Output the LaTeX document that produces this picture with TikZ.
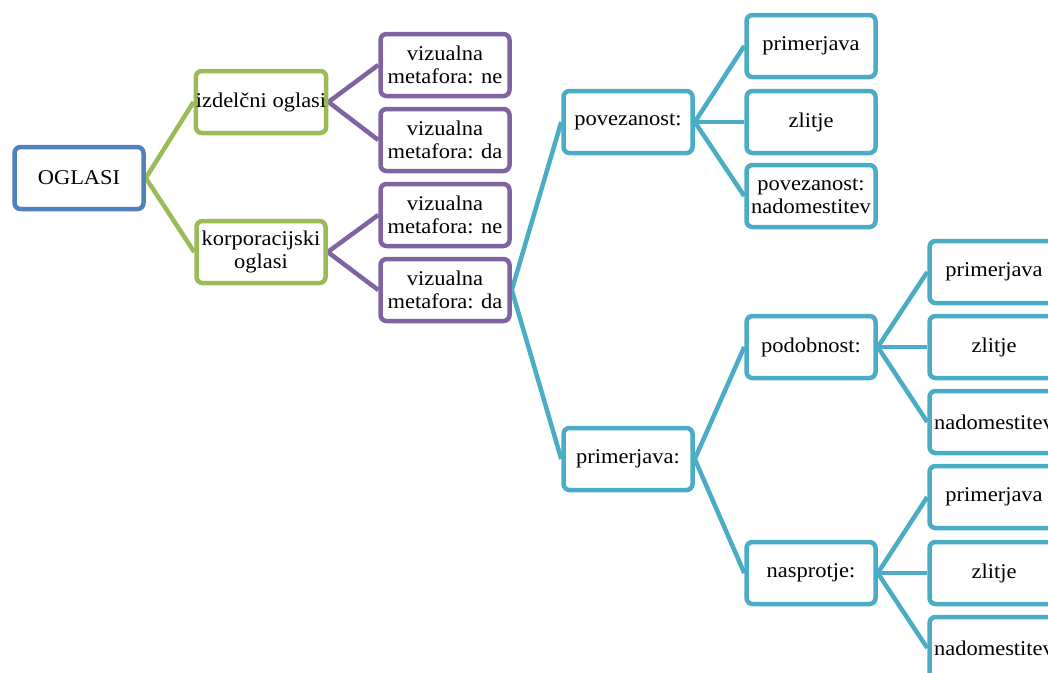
\documentclass[tikz,border=0pt]{standalone}
\usepackage{fontspec}
\setmainfont[FakeStretch=1.07]{Liberation Serif}
\usetikzlibrary{backgrounds}
\definecolor{cblue}{HTML}{4F81BD}
\definecolor{cgreen}{HTML}{9BBB59}
\definecolor{cpurple}{HTML}{8064A2}
\definecolor{cteal}{HTML}{4BACC6}
\tikzset{
  box/.style={draw, rounded corners=6pt, line width=4.5pt, fill=white,
    minimum width=129pt, minimum height=62pt, align=center, inner sep=0pt,
    font=\fontsize{21}{23}\selectfont},
  conn/.style={line width=4.5pt},
}
\begin{document}
\begin{tikzpicture}[x=1pt,y=-1pt]
\useasboundingbox (0,0) rectangle (1048,672);
\clip (0,0) rectangle (1048,672);
\node[box, draw=cblue] (og) at (79,178) {OGLASI};
\node[box, draw=cgreen] (iz) at (261,102) {izdelčni oglasi};
\node[box, draw=cgreen] (ko) at (261,252) {korporacijski\\oglasi};
\node[box, draw=cpurple] (v1) at (445,65) {vizualna\\metafora: ne};
\node[box, draw=cpurple] (v2) at (445,140) {vizualna\\metafora: da};
\node[box, draw=cpurple] (v3) at (445,215) {vizualna\\metafora: ne};
\node[box, draw=cpurple] (v4) at (445,290) {vizualna\\metafora: da};
\node[box, draw=cteal] (pov) at (628,122) {povezanost:};
\node[box, draw=cteal] (pri) at (628,459) {primerjava:};
\node[box, draw=cteal] (a1) at (811,46) {primerjava};
\node[box, draw=cteal] (a2) at (811,122) {zlitje};
\node[box, draw=cteal] (a3) at (811,196) {povezanost:\\nadomestitev};
\node[box, draw=cteal] (pod) at (811,347) {podobnost:};
\node[box, draw=cteal] (nas) at (811,573) {nasprotje:};
\node[box, draw=cteal] (b1) at (994,272) {primerjava};
\node[box, draw=cteal] (b2) at (994,347) {zlitje};
\node[box, draw=cteal] (b3) at (994,422) {nadomestitev};
\node[box, draw=cteal] (b4) at (994,497) {primerjava};
\node[box, draw=cteal] (b5) at (994,573) {zlitje};
\node[box, draw=cteal] (b6) at (994,648) {nadomestitev};
\begin{scope}[on background layer]
\draw[conn, cgreen] (og.east) -- (iz.west);
\draw[conn, cgreen] (og.east) -- (ko.west);
\draw[conn, cpurple] (iz.east) -- (v1.west);
\draw[conn, cpurple] (iz.east) -- (v2.west);
\draw[conn, cpurple] (ko.east) -- (v3.west);
\draw[conn, cpurple] (ko.east) -- (v4.west);
\draw[conn, cteal] (v4.east) -- (pov.west);
\draw[conn, cteal] (v4.east) -- (pri.west);
\draw[conn, cteal] (pov.east) -- (a1.west);
\draw[conn, cteal] (pov.east) -- (a2.west);
\draw[conn, cteal] (pov.east) -- (a3.west);
\draw[conn, cteal] (pri.east) -- (pod.west);
\draw[conn, cteal] (pri.east) -- (nas.west);
\draw[conn, cteal] (pod.east) -- (b1.west);
\draw[conn, cteal] (pod.east) -- (b2.west);
\draw[conn, cteal] (pod.east) -- (b3.west);
\draw[conn, cteal] (nas.east) -- (b4.west);
\draw[conn, cteal] (nas.east) -- (b5.west);
\draw[conn, cteal] (nas.east) -- (b6.west);
\end{scope}
\end{tikzpicture}
\end{document}
